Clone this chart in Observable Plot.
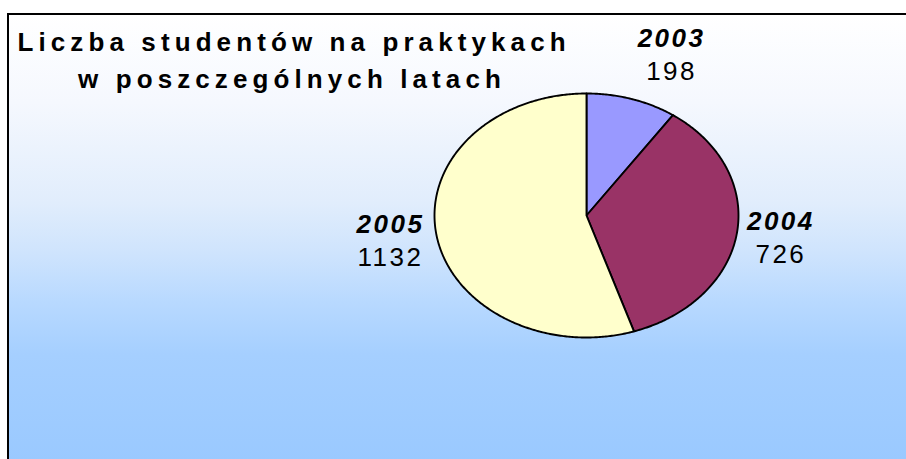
<!DOCTYPE html>
<html>
<head>
<meta charset="utf-8">
<script src="https://cdn.jsdelivr.net/npm/d3@7"></script>
<script src="https://cdn.jsdelivr.net/npm/@observablehq/plot@0.6"></script>
<style>
  html, body { margin: 0; padding: 0; background: #ffffff; }
  #wrap { position: relative; width: 906px; height: 459px; overflow: hidden; background: #ffffff; }
  #panel {
    position: absolute; left: 7px; top: 13px; width: 899px; height: 446px;
    box-sizing: border-box;
    border-top: 2px solid #000; border-left: 2px solid #000;
    background: linear-gradient(to bottom,
      #ffffff 0px, #f5f8fe 87px, #e1edfc 187px, #cfe4fd 237px,
      #b8d9ff 287px, #a5cfff 340px, #9ac9ff 446px);
  }
  #chart { position: absolute; left: 0; top: 0; }
  #chart svg { background: transparent; overflow: visible; }
</style>
</head>
<body>
<div id="wrap">
  <div id="panel"></div>
  <div id="chart"></div>
</div>
<script>
// ---- data ----
const years = ["2003", "2004", "2005"];
const values = [198, 726, 1132];
const sliceColors = ["#9999ff", "#993366", "#ffffcc"];
const titleLines = ["Liczba studentów na praktykach", "w poszczególnych latach"];

// ---- layout (pixels) ----
const W = 906, H = 459;
const CX = 586, CY = 215, RX = 152, RY = 122;

// pie geometry in unit-circle data space (y up), start at 12 o'clock, clockwise
const arcs = d3.pie().sort(null).value(d => d)(values);
const slicePts = [];
arcs.forEach((a, i) => {
  const n = Math.max(4, Math.ceil((a.endAngle - a.startAngle) / 0.01));
  slicePts.push({year: years[i], x: 0, y: 0});
  for (let k = 0; k <= n; k++) {
    const t = a.startAngle + (a.endAngle - a.startAngle) * k / n;
    slicePts.push({year: years[i], x: Math.sin(t), y: Math.cos(t)});
  }
  slicePts.push({year: years[i], x: 0, y: 0});
});

// label anchors: placed outside the ellipse at the slice mid-angle
const labels = arcs.map((a, i) => {
  const m = (a.startAngle + a.endAngle) / 2;
  const s = Math.sin(m), c = Math.cos(m);
  const dxPx = Math.sign(s) * (45 - 6 * (1 - Math.abs(s))) - 1;
  const dyPx = -45 * c - 3; // downward pixels
  return {year: years[i], value: values[i], x: s + dxPx / RX, y: c - dyPx / RY};
});

const xDomain = [(0 - CX) / RX, (W - CX) / RX];
const yDomain = [(CY - H) / RY, CY / RY];

const font = "'Liberation Sans', Arial, sans-serif";

const chart = Plot.plot({
  width: W,
  height: H,
  margin: 0,
  style: {background: "transparent", fontFamily: font, overflow: "visible"},
  x: {domain: xDomain, range: [0, W], axis: null},
  y: {domain: yDomain, range: [H, 0], axis: null},
  color: {domain: years, range: sliceColors},
  marks: [
    Plot.line(slicePts, {
      x: "x", y: "y", z: "year", fill: "year",
      stroke: "#000", strokeWidth: 1.9, strokeLinejoin: "round", curve: "linear"
    }),
    Plot.text([titleLines[0]], {
      frameAnchor: "top-left", dx: 17, dy: 50, lineAnchor: "bottom", textAnchor: "start",
      text: d => d, fontSize: 26, fontWeight: "bold", fill: "#000"
    }),
    Plot.text([titleLines[1]], {
      frameAnchor: "top-left", dx: 291.5, dy: 87, lineAnchor: "bottom", textAnchor: "middle",
      text: d => d, fontSize: 26, fontWeight: "bold", fill: "#000"
    }),
    Plot.text(labels, {
      x: "x", y: "y", text: "year", lineAnchor: "bottom", dy: -6, textAnchor: "middle",
      fontSize: 26, fontWeight: "bold", fontStyle: "italic", fill: "#000"
    }),
    Plot.text(labels, {
      x: "x", y: "y", text: d => String(d.value), lineAnchor: "bottom", dy: 27, textAnchor: "middle",
      fontSize: 26, fill: "#000"
    })
  ]
});

const valueStrings = values.map(String);
d3.select(chart).selectAll("text").each(function() {
  const t = this.textContent;
  if (titleLines.includes(t)) this.setAttribute("letter-spacing", "5.1");
  else if (years.includes(t) || valueStrings.includes(t)) this.setAttribute("letter-spacing", "2.5");
});

document.getElementById("chart").appendChild(chart);
</script>
</body>
</html>
